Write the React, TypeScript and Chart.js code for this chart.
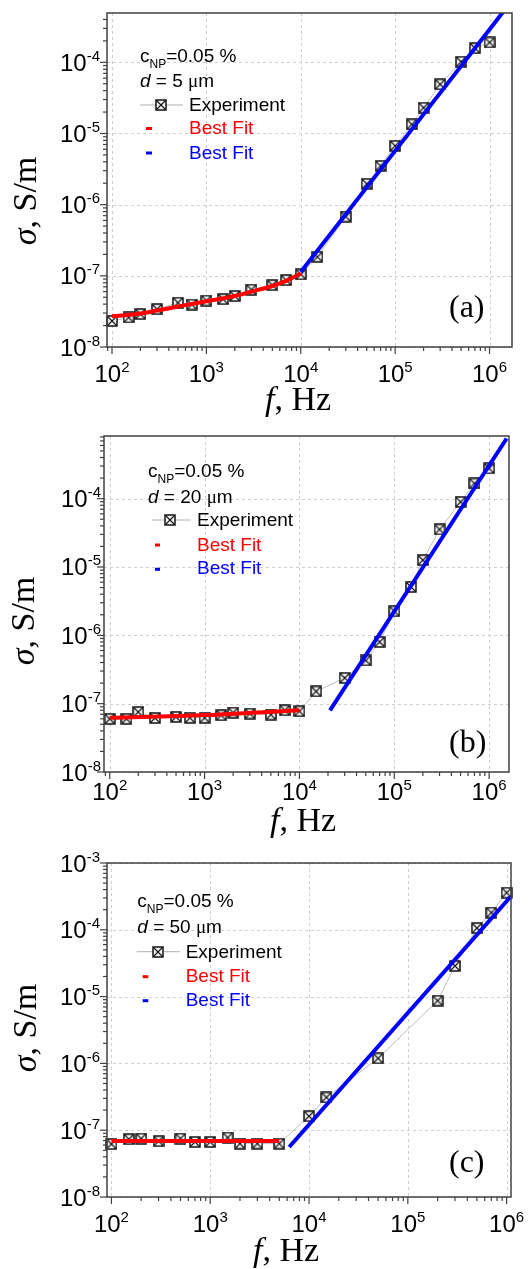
import React, { useEffect, useRef } from "react";
import { Chart, registerables } from "chart.js";

Chart.register(...registerables);

// ---------------- data ----------------
const FREQ_A = [100, 150, 200, 300, 500, 700, 1000, 1500, 2000, 3000, 5000, 7000, 1e4, 1.5e4, 3e4, 5e4, 7e4, 1e5, 1.5e5, 2e5, 3e5, 5e5, 7e5, 1e6];
const SIGMA_A = [2.32e-8, 2.6e-8, 2.9e-8, 3.4e-8, 4.2e-8, 3.95e-8, 4.5e-8, 4.7e-8, 5.2e-8, 6.4e-8, 7.4e-8, 8.7e-8, 1.05e-7, 1.85e-7, 6.8e-7, 1.96e-6, 3.5e-6, 6.7e-6, 1.34e-5, 2.3e-5, 4.9e-5, 1.02e-4, 1.58e-4, 1.9e-4];
const FIT_RED_FREQ_A = [100, 200, 300, 500, 1000, 2000, 3000, 5000, 7000, 1e4];
const FIT_RED_SIGMA_A = [2.7e-8, 2.95e-8, 3.25e-8, 3.7e-8, 4.4e-8, 5.2e-8, 6.0e-8, 7.2e-8, 8.5e-8, 1.08e-7];
const FIT_BLUE_FREQ_A = [1e4, 1e5, 1e6, 1.5e6];
const FIT_BLUE_SIGMA_A = [1.13e-7, 5.7e-6, 2.9e-4, 5.8e-4];

const FREQ_B = [100, 150, 200, 300, 500, 700, 1000, 1500, 2000, 3000, 5000, 7000, 1e4, 1.5e4, 3e4, 5e4, 7e4, 1e5, 1.5e5, 2e5, 3e5, 5e5, 7e5, 1e6];
const SIGMA_B = [6.0e-8, 6.0e-8, 7.55e-8, 6.17e-8, 6.4e-8, 6.2e-8, 6.2e-8, 6.76e-8, 7.4e-8, 7.16e-8, 6.9e-8, 8.0e-8, 7.74e-8, 1.51e-7, 2.38e-7, 4.3e-7, 8.0e-7, 2.25e-6, 5.1e-6, 1.26e-5, 3.54e-5, 8.97e-5, 1.67e-4, 2.77e-4];
const FIT_RED_FREQ_B = [100, 1000, 1e4];
const FIT_RED_SIGMA_B = [6.2e-8, 6.8e-8, 8.0e-8];
const FIT_BLUE_FREQ_B = [2.1e4, 1.53e6];
const FIT_BLUE_SIGMA_B = [8.0e-8, 7.6e-4];

const FREQ_C = [100, 150, 200, 300, 500, 700, 1000, 1500, 2000, 3000, 5000, 1e4, 1.5e4, 5e4, 2e5, 3e5, 5e5, 7e5, 1e6];
const SIGMA_C = [6.2e-8, 7.33e-8, 7.5e-8, 6.84e-8, 7.5e-8, 6.68e-8, 6.68e-8, 7.77e-8, 6.3e-8, 6.3e-8, 6.3e-8, 1.62e-7, 3.1e-7, 1.19e-6, 8.7e-6, 2.88e-5, 1.06e-4, 1.81e-4, 3.6e-4];
const FIT_RED_FREQ_C = [100, 5000];
const FIT_RED_SIGMA_C = [6.9e-8, 6.9e-8];
const FIT_BLUE_FREQ_C = [6.3e3, 1.1e6];
const FIT_BLUE_SIGMA_C = [5.6e-8, 3.15e-4];

const X_TICK_EXP = [2, 3, 4, 5, 6];
const Y_TICK_EXP_AB = [-8, -7, -6, -5, -4];
const Y_TICK_EXP_C = [-8, -7, -6, -5, -4, -3];
const PANEL_TAGS = ["(a)", "(b)", "(c)"];
const THICKNESS = ["5", "20", "50"];
const CONCENTRATION = "0.05 %";
const SERIES_NAMES = ["Experiment", "Best Fit", "Best Fit"];

// ---------------- styles ----------------
const SANS = '"Liberation Sans", Arial, Helvetica, sans-serif';
const SERIF = '"Liberation Serif", "Times New Roman", serif';
const RED = "#ff0000";
const BLUE = "#0000ff";

type Seg = { t: string; font: string; color?: string; dy?: number };

function segWidth(ctx: CanvasRenderingContext2D, segs: Seg[]) {
  let w = 0;
  for (const s of segs) {
    ctx.font = s.font;
    w += ctx.measureText(s.t).width;
  }
  return w;
}

function drawRich(ctx: CanvasRenderingContext2D, segs: Seg[], x: number, y: number, align: string) {
  const w = segWidth(ctx, segs);
  let cx = align === "center" ? x - w / 2 : align === "right" ? x - w : x;
  ctx.textAlign = "left";
  for (const s of segs) {
    ctx.font = s.font;
    ctx.fillStyle = s.color || "#000";
    ctx.fillText(s.t, cx, y + (s.dy || 0));
    cx += ctx.measureText(s.t).width;
  }
}

function powSegs(exp: number): Seg[] {
  return [
    { t: "10", font: `24px ${SANS}` },
    { t: String(exp), font: `15px ${SANS}`, dy: -10 },
  ];
}

function makeMarker() {
  const s = 12;
  const c = document.createElement("canvas");
  c.width = s;
  c.height = s;
  const g = c.getContext("2d")!;
  g.fillStyle = "#f4f4f4";
  g.fillRect(1, 1, s - 2, s - 2);
  g.strokeStyle = "#111111";
  g.lineWidth = 1.5;
  g.strokeRect(1, 1, s - 2, s - 2);
  g.beginPath();
  g.moveTo(1.5, 1.5);
  g.lineTo(s - 1.5, s - 1.5);
  g.moveTo(s - 1.5, 1.5);
  g.lineTo(1.5, s - 1.5);
  g.lineWidth = 1.1;
  g.stroke();
  return c;
}

type Cfg = any;

const PANELS: Cfg[] = [
  {
    top: 0, height: 420,
    pad: { left: 107, right: 20, top: 13, bottom: 73 },
    xMin: 88.5, xMax: 1.73e6, yMin: 1e-8, yMax: 4.93e-4,
    expF: FREQ_A, expS: SIGMA_A, redF: FIT_RED_FREQ_A, redS: FIT_RED_SIGMA_A, blueF: FIT_BLUE_FREQ_A, blueS: FIT_BLUE_SIGMA_A,
    yExp: Y_TICK_EXP_AB, tag: PANEL_TAGS[0], thick: THICKNESS[0],
    xLabelBase: 382, yLabelRight: 100,
    yTitle: [27, 201], xTitle: [298, 410], tagPos: [449, 317],
    lg: { tx: 140, l1: 62, l2: 87, sx1: 140, sx2: 183, sy: 105, mx: 161, ex: 189, eb: 111, dx1: 146, dx2: 152, ry: 128.5, rb: 134, by: 153, bb: 158.5 },
  },
  {
    top: 420, height: 420,
    pad: { left: 104, right: 23, top: 16, bottom: 68 },
    xMin: 87, xMax: 1.62e6, yMin: 1e-8, yMax: 8.26e-4,
    expF: FREQ_B, expS: SIGMA_B, redF: FIT_RED_FREQ_B, redS: FIT_RED_SIGMA_B, blueF: FIT_BLUE_FREQ_B, blueS: FIT_BLUE_SIGMA_B,
    yExp: Y_TICK_EXP_AB, tag: PANEL_TAGS[1], thick: THICKNESS[1],
    xLabelBase: 380, yLabelRight: 101,
    yTitle: [25, 201], xTitle: [303, 410.5], tagPos: [449, 331.5],
    lg: { tx: 148, l1: 56.7, l2: 82.7, sx1: 151.7, sx2: 190.7, sy: 100, mx: 170, ex: 197, eb: 106, dx1: 155, dx2: 160, ry: 125, rb: 130.7, by: 149.3, bb: 154.3 },
  },
  {
    top: 840, height: 429,
    pad: { left: 107, right: 21, top: 23, bottom: 72 },
    xMin: 90.2, xMax: 1.107e6, yMin: 1e-8, yMax: 1e-3,
    expF: FREQ_C, expS: SIGMA_C, redF: FIT_RED_FREQ_C, redS: FIT_RED_SIGMA_C, blueF: FIT_BLUE_FREQ_C, blueS: FIT_BLUE_SIGMA_C,
    yExp: Y_TICK_EXP_C, tag: PANEL_TAGS[2], thick: THICKNESS[2],
    xLabelBase: 392, yLabelRight: 100,
    yTitle: [27, 188], xTitle: [286, 420.7], tagPos: [449, 332],
    lg: { tx: 137.3, l1: 66.7, l2: 93.3, sx1: 136.7, sx2: 180, sy: 111.7, mx: 158.3, ex: 185.7, eb: 118.3, dx1: 142.7, dx2: 148.3, ry: 136.7, rb: 141.7, by: 160.7, bb: 165.7 },
  },
];

function decoPlugin(cfg: Cfg, marker: HTMLCanvasElement) {
  return {
    id: "deco",
    beforeDatasetsDraw(chart: any) {
      const { ctx, chartArea: a, scales } = chart;
      const xs = scales.x, ys = scales.y;
      ctx.save();
      ctx.strokeStyle = "#cfcfcf";
      ctx.lineWidth = 1;
      ctx.setLineDash([3, 3]);
      for (const e of X_TICK_EXP) {
        const px = Math.round(xs.getPixelForValue(Math.pow(10, e))) + 0.5;
        ctx.beginPath();
        ctx.moveTo(px, a.top);
        ctx.lineTo(px, a.bottom);
        ctx.stroke();
      }
      for (const e of cfg.yExp) {
        const py = Math.round(ys.getPixelForValue(Math.pow(10, e))) + 0.5;
        ctx.beginPath();
        ctx.moveTo(a.left, py);
        ctx.lineTo(a.right, py);
        ctx.stroke();
      }
      ctx.restore();
    },
    afterDatasetsDraw(chart: any) {
      const { ctx, chartArea: a, scales } = chart;
      const xs = scales.x, ys = scales.y;
      ctx.save();
      // frame
      ctx.strokeStyle = "#404040";
      ctx.lineWidth = 1.5;
      ctx.setLineDash([]);
      ctx.strokeRect(a.left, a.top, a.right - a.left, a.bottom - a.top);
      // minor / major ticks
      ctx.lineWidth = 1.2;
      const loX = Math.floor(Math.log10(cfg.xMin)), hiX = Math.ceil(Math.log10(cfg.xMax));
      for (let e = loX; e <= hiX; e++) {
        for (let k = 1; k <= 9; k++) {
          const v = k * Math.pow(10, e);
          if (v < cfg.xMin * 0.999 || v > cfg.xMax * 1.001) continue;
          const px = xs.getPixelForValue(v);
          ctx.beginPath();
          ctx.moveTo(px, a.bottom);
          ctx.lineTo(px, a.bottom + (k === 1 ? 7 : 4));
          ctx.stroke();
        }
      }
      const loY = Math.floor(Math.log10(cfg.yMin)), hiY = Math.ceil(Math.log10(cfg.yMax));
      for (let e = loY; e <= hiY; e++) {
        for (let k = 1; k <= 9; k++) {
          const v = k * Math.pow(10, e);
          if (v < cfg.yMin * 0.999 || v > cfg.yMax * 1.001) continue;
          const py = ys.getPixelForValue(v);
          ctx.beginPath();
          ctx.moveTo(a.left, py);
          ctx.lineTo(a.left - (k === 1 ? 7 : 4), py);
          ctx.stroke();
        }
      }
      // tick labels
      ctx.textBaseline = "alphabetic";
      for (const e of X_TICK_EXP) {
        const px = xs.getPixelForValue(Math.pow(10, e));
        drawRich(ctx, powSegs(e), px, cfg.xLabelBase, "center");
      }
      for (const e of cfg.yExp) {
        const py = ys.getPixelForValue(Math.pow(10, e));
        drawRich(ctx, powSegs(e), cfg.yLabelRight, py + 8.5, "right");
      }
      // axis titles
      ctx.save();
      ctx.translate(cfg.yTitle[0], cfg.yTitle[1]);
      ctx.rotate(-Math.PI / 2);
      ctx.textBaseline = "middle";
      drawRich(ctx, [
        { t: "σ", font: `italic 34px ${SERIF}` },
        { t: ", S/m", font: `34px ${SERIF}` },
      ], 0, 0, "center");
      ctx.restore();
      ctx.textBaseline = "alphabetic";
      drawRich(ctx, [
        { t: "f", font: `italic 34px ${SERIF}` },
        { t: ", Hz", font: `34px ${SERIF}` },
      ], cfg.xTitle[0], cfg.xTitle[1], "center");
      // panel tag
      drawRich(ctx, [{ t: cfg.tag, font: `32px ${SERIF}` }], cfg.tagPos[0], cfg.tagPos[1], "left");
      // legend block
      const lg = cfg.lg;
      drawRich(ctx, [
        { t: "c", font: `19px ${SANS}` },
        { t: "NP", font: `12px ${SANS}`, dy: 6 },
        { t: "=" + CONCENTRATION, font: `19px ${SANS}` },
      ], lg.tx, lg.l1, "left");
      drawRich(ctx, [
        { t: "d", font: `italic 19px ${SANS}` },
        { t: " = " + cfg.thick + " ", font: `19px ${SANS}` },
        { t: "μ", font: `19px ${SERIF}` },
        { t: "m", font: `19px ${SANS}` },
      ], lg.tx, lg.l2, "left");
      ctx.strokeStyle = "#b0b0b0";
      ctx.lineWidth = 1;
      ctx.beginPath();
      ctx.moveTo(lg.sx1, lg.sy);
      ctx.lineTo(lg.sx2, lg.sy);
      ctx.stroke();
      ctx.drawImage(marker, Math.round(lg.mx - marker.width / 2), Math.round(lg.sy - marker.height / 2));
      drawRich(ctx, [{ t: SERIES_NAMES[0], font: `19px ${SANS}` }], lg.ex, lg.eb, "left");
      ctx.fillStyle = RED;
      ctx.fillRect(lg.dx1, lg.ry - 1.5, lg.dx2 - lg.dx1, 3);
      drawRich(ctx, [{ t: SERIES_NAMES[1], font: `19px ${SANS}`, color: RED }], lg.ex, lg.rb, "left");
      ctx.fillStyle = BLUE;
      ctx.fillRect(lg.dx1, lg.by - 1.5, lg.dx2 - lg.dx1, 3);
      drawRich(ctx, [{ t: SERIES_NAMES[2], font: `19px ${SANS}`, color: BLUE }], lg.ex, lg.bb, "left");
      ctx.restore();
    },
  };
}

function PanelChart({ cfg }: { cfg: Cfg }) {
  const ref = useRef<HTMLCanvasElement>(null);
  useEffect(() => {
    const canvas = ref.current!;
    const marker = makeMarker();
    const pts = (f: number[], s: number[]) => f.map((x, i) => ({ x, y: s[i] }));
    const chart = new Chart(canvas, {
      type: "line",
      data: {
        datasets: [
          { label: SERIES_NAMES[1], data: pts(cfg.redF, cfg.redS), borderColor: RED, backgroundColor: RED, borderWidth: 4, pointRadius: 0, order: 0, cubicInterpolationMode: "monotone" },
          { label: SERIES_NAMES[2], data: pts(cfg.blueF, cfg.blueS), borderColor: BLUE, backgroundColor: BLUE, borderWidth: 4, pointRadius: 0, order: 1 },
          { label: SERIES_NAMES[0], data: pts(cfg.expF, cfg.expS), borderColor: "#bdbdbd", borderWidth: 1, pointStyle: marker, pointRadius: 6, order: 2, clip: false },
        ],
      } as any,
      options: {
        responsive: false,
        animation: false,
        devicePixelRatio: 1,
        events: [],
        layout: { padding: cfg.pad },
        plugins: { legend: { display: false }, tooltip: { enabled: false } },
        scales: {
          x: { type: "logarithmic", min: cfg.xMin, max: cfg.xMax, display: false },
          y: { type: "logarithmic", min: cfg.yMin, max: cfg.yMax, display: false },
        },
      } as any,
      plugins: [decoPlugin(cfg, marker) as any],
    });
    return () => chart.destroy();
  }, [cfg]);
  return (
    <canvas
      ref={ref}
      width={532}
      height={cfg.height}
      style={{ position: "absolute", left: 0, top: cfg.top, width: 532, height: cfg.height, display: "block" }}
    />
  );
}

export default function App() {
  return (
    <div style={{ position: "absolute", left: 0, top: 0, width: 532, height: 1269, background: "#fff" }}>
      {PANELS.map((p, i) => (
        <PanelChart key={i} cfg={p} />
      ))}
    </div>
  );
}
